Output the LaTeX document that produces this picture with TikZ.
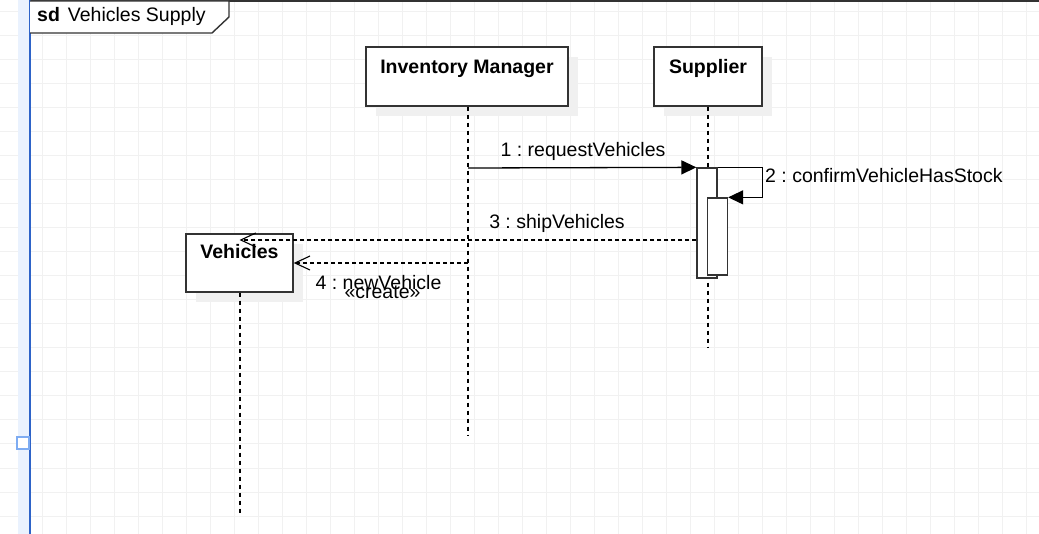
\documentclass[tikz,border=0pt]{standalone}
\usepackage{fontspec}
\setmainfont{Liberation Sans}
\usetikzlibrary{arrows.meta}
\frenchspacing

\definecolor{gridgray}{HTML}{F1F1F1}
\definecolor{shadowgray}{HTML}{F0F0F0}
\definecolor{framegray}{HTML}{333333}
\definecolor{selblue}{HTML}{2D63C8}
\definecolor{selband}{HTML}{EAF2FE}
\definecolor{handleblue}{HTML}{7EACF2}

\tikzset{
  lifebox/.style={draw=framegray, line width=1.4pt, fill=white, inner sep=0pt},
  boxshadow/.style={fill=shadowgray, draw=none},
  boxtitle/.style={font=\bfseries\fontsize{19.5}{22}\selectfont, anchor=base, inner sep=0pt},
  msgtext/.style={font=\fontsize{19.5}{22}\selectfont, anchor=base, inner sep=0pt},
  lifeline/.style={draw=black, line width=1.3pt, dash pattern=on 4pt off 4pt},
  actbar/.style={draw=framegray, line width=1.3pt, fill=white, inner sep=0pt, minimum width=20pt},
  callmsg/.style={draw=black, line width=1.3pt, -{Triangle[length=15pt,width=14pt]}},
  replymsg/.style={draw=black, line width=1.1pt, dash pattern=on 4pt off 3pt, -{Straight Barb[length=15pt,width=14pt,line width=1.1pt]}}
}

\begin{document}
\begin{tikzpicture}[x=1pt, y=-1pt]
  \useasboundingbox (0,0) rectangle (1039,534);

  % Luoi nen
  \foreach \gx in {18,42,...,1038}
    \draw[gridgray, line width=1pt] (\gx,0) -- (\gx,534);
  \foreach \gy in {12,36,...,532}
    \draw[gridgray, line width=1pt] (0,\gy) -- (1039,\gy);

  % Khung sd
  \fill[selband] (18,0) rectangle (29,534);
  \draw[framegray, line width=1.4pt] (30,1) -- (1039,1);
  \draw[selblue, line width=2pt] (30,0) -- (30,534);
  \draw[framegray, line width=1.4pt, fill=white]
    (30,1) -- (229,1) -- (229,17) -- (212,33) -- (30,33);
  \node[msgtext, anchor=base west] (sdtag) at (37,22) {\textbf{sd}\hspace{8pt}Vehicles Supply};
  \draw[handleblue, line width=1.5pt, fill=white] (17,437) rectangle (29,449);

  % Bong cac hop
  \fill[boxshadow] (376,57) rectangle (578,116);
  \fill[boxshadow] (664,57) rectangle (772,116);
  \fill[boxshadow] (196,244) rectangle (303,302);

  % Cac doi tuong
  \node[lifebox, minimum width=202pt, minimum height=59pt] (im) at (467,76.5) {};
  \node[lifebox, minimum width=108pt, minimum height=59pt] (sup) at (708,76.5) {};
  \node[lifebox, minimum width=107pt, minimum height=58pt] (veh) at (239.5,263) {};
  \node[boxtitle] (imtitle) at ([yshift=-27pt]im.north) {Inventory Manager};
  \node[boxtitle] (suptitle) at ([yshift=-27pt]sup.north) {Supplier};
  \node[boxtitle] (vehtitle) at ([yshift=-25pt]veh.north) {Vehicles};

  % Duong song
  \coordinate (imend) at (468,435);
  \coordinate (supend) at (708,347);
  \coordinate (vehend) at (240,516);
  \draw[lifeline] (im.south -| imend) -- (imend);
  \draw[lifeline] (sup.south) -- (supend);
  \draw[lifeline] (veh.south -| vehend) -- (vehend);

  % Thanh kich hoat
  \node[actbar, minimum height=110pt] (act1) at (707,223) {};
  \node[actbar, minimum width=20pt, minimum height=77pt] (act2) at (717.5,236.5) {};

  % Thong diep
  \coordinate (m1) at (468,168);
  \coordinate (m3) at (0,240);
  \coordinate (m4) at (468,263);
  \draw[callmsg] (m1) -- (act1.north west);
  \draw[callmsg] (act1.north east) -- ++(45,0) |- (act2.north east);
  \draw[replymsg] (act1.west |- m3) -- (veh.center |- m3);
  \draw[replymsg] (m4) -- (veh.east);

  % Nhan
  \node[msgtext] (l1) at (583,157) {1 : requestVehicles};
  \node[msgtext, anchor=base west] (l2) at (765,183) {2 : confirmVehicleHasStock};
  \node[msgtext] (l3) at (557,229) {3 : shipVehicles};
  \node[msgtext] (l4) at (378.5,290) {4 : newVehicle};
  \node[msgtext] (l4b) at (382.5,299) {«create»};
\end{tikzpicture}
\end{document}
